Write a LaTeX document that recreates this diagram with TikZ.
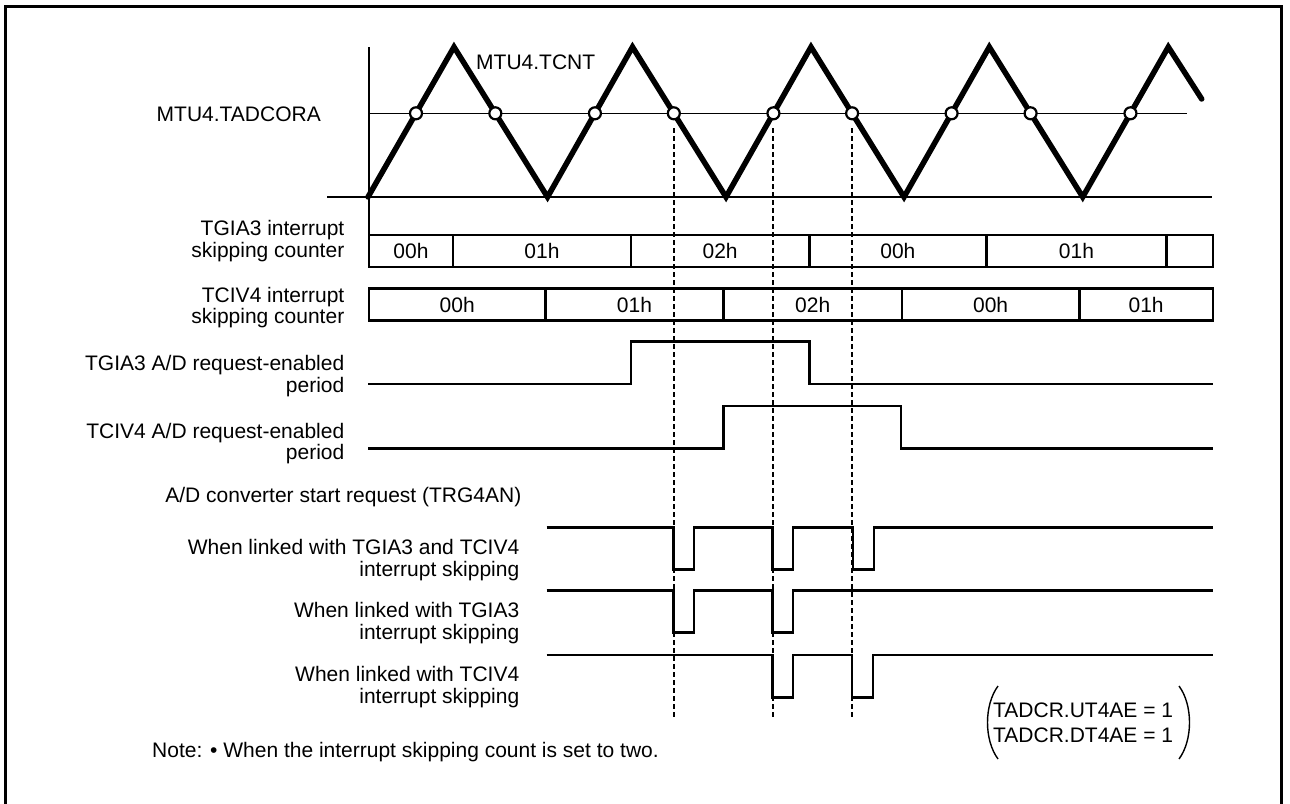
\documentclass[tikz,border=0pt]{standalone}
\usepackage{fontspec}
\setmainfont{Liberation Sans}
\usetikzlibrary{calc}
\begin{document}
\begin{tikzpicture}[x=1pt,y=-1pt,
  lbl/.style={font=\fontsize{21}{21.5}\selectfont, inner sep=0pt, align=right, anchor=east},
  celltext/.style={font=\fontsize{21}{21.5}\selectfont, inner sep=0pt},
  thinline/.style={line width=1.4pt},
  sig/.style={line width=2.8pt, line join=miter},
  tri/.style={line width=5.5pt, line join=miter, line cap=round},
  guide/.style={line width=2pt, dash pattern=on 5pt off 3pt},
  cmpdot/.style={circle, draw, fill=white, line width=2.2pt, minimum size=12pt, inner sep=0pt},
  frame/.style={line width=3pt}
]
\useasboundingbox (0,0) rectangle (1290,803);
% outer frame
\draw[frame] (5,830) -- (5,6) -- (1281.5,6) -- (1281.5,830);

% axes
\coordinate (axtop) at (369,47);
\coordinate (axbot) at (369,235);
\coordinate (bl0) at (327,197);
\coordinate (bl1) at (1212,197);
\coordinate (ad0) at (369,113.3);
\coordinate (ad1) at (1187,113.3);
\draw[thinline] (axtop) -- (axbot);
\draw[thinline] (bl0) -- (bl1);
\draw[thinline] (ad0) -- (ad1);

% triangle wave
\coordinate (t0) at (368,197);
\coordinate (p0) at (454,47);
\coordinate (t1) at (547.5,197);
\coordinate (p1) at (632.5,47);
\coordinate (t2) at (726,197);
\coordinate (p2) at (811,47);
\coordinate (t3) at (904,197);
\coordinate (p3) at (989.3,47);
\coordinate (t4) at (1082.7,197);
\coordinate (p4) at (1168.3,47);
\coordinate (wend) at (1201.7,99);
\draw[tri] (t0) -- (p0) -- (t1) -- (p1) -- (t2) -- (p2) -- (t3) -- (p3) -- (t4) -- (p4) -- (wend);

% compare-match points
\node[cmpdot] (c1) at ($(t0)!0.558!(p0)$) {};
\node[cmpdot] (c2) at ($(p0)!0.442!(t1)$) {};
\node[cmpdot] (c3) at ($(t1)!0.558!(p1)$) {};
\node[cmpdot] (c4) at ($(p1)!0.442!(t2)$) {};
\node[cmpdot] (c5) at ($(t2)!0.558!(p2)$) {};
\node[cmpdot] (c6) at ($(p2)!0.442!(t3)$) {};
\node[cmpdot] (c7) at ($(t3)!0.558!(p3)$) {};
\node[cmpdot] (c8) at ($(p3)!0.442!(t4)$) {};
\node[cmpdot] (c9) at ($(t4)!0.558!(p4)$) {};

\node[lbl] (tadcora) at (321,114.5) {MTU4.TADCORA};
\node[lbl, anchor=west] (tcnt) at (476,62) {MTU4.TCNT};

% counters
\foreach \a/\b/\t [count=\i] in {369/453/00h, 453/631/01h, 631/809.3/02h, 809.3/986.5/00h, 986.5/1166.5/01h, 1166.5/1213/{}}{
  \draw[sig] (\a,235) rectangle (\b,267);
  \node[celltext] (ga\i) at ({(\a+\b)/2},251) {\t};
}
\foreach \a/\b/\t [count=\i] in {369/545.5/00h, 545.5/723.5/01h, 723.5/902/02h, 902/1079.3/00h, 1079.3/1213/01h}{
  \draw[sig] (\a,288.5) rectangle (\b,320.7);
  \node[celltext] (cv\i) at ({(\a+\b)/2},304.6) {\t};
}
\node[lbl] (lga) at (344.5,241) {TGIA3 interrupt\\skipping counter};
\node[lbl] (lcv) at (344.5,307.5) {TCIV4 interrupt\\skipping counter};

% request-enabled periods
\draw[sig] (368,384) -- (631,384) -- (631,341.7) -- (809.3,341.7) -- (809.3,384) -- (1213,384);
\draw[sig] (368,448.3) -- (723.3,448.3) -- (723.3,406) -- (901,406) -- (901,448.3) -- (1213,448.3);
\node[lbl] (lgae) at (344.5,376) {TGIA3 A/D request-enabled\\period};
\node[lbl] (lcve) at (344.5,443.5) {TCIV4 A/D request-enabled\\period};

\node[lbl] (ltrg) at (521.5,497) {A/D converter start request (TRG4AN)};

% start requests
\def\ha{527.3}\def\la{569.3}
\draw[sig] (546.7,\ha) -- (673.5,\ha) -- (673.5,\la) -- (694,\la) -- (694,\ha) -- (772.5,\ha) -- (772.5,\la) -- (793,\la) -- (793,\ha) -- (853,\ha) -- (853,\la) -- (874,\la) -- (874,\ha) -- (1213,\ha);
\def\hb{590.7}\def\lb{632.3}
\draw[sig] (546.7,\hb) -- (673.5,\hb) -- (673.5,\lb) -- (694,\lb) -- (694,\hb) -- (772.5,\hb) -- (772.5,\lb) -- (793,\lb) -- (793,\hb) -- (1213,\hb);
\def\hc{655}\def\lc{697.3}
\draw[sig] (546.7,\hc) -- (772.5,\hc) -- (772.5,\lc) -- (793,\lc) -- (793,\hc) -- (852,\hc) -- (852,\lc) -- (873,\lc) -- (873,\hc) -- (1213,\hc);

\node[lbl] (lr1) at (519.5,560) {When linked with TGIA3 and TCIV4\\interrupt skipping};
\node[lbl] (lr2) at (519.5,623) {When linked with TGIA3\\interrupt skipping};
\node[lbl] (lr3) at (519.5,687) {When linked with TCIV4\\interrupt skipping};

% guide lines
\coordinate (gb) at (0,720);
\draw[guide] ([yshift=-15pt]c4.center) -- (c4 |- gb);
\draw[guide] ([yshift=-15pt]c5.center) -- (c5 |- gb);
\draw[guide] ([yshift=-15pt]c6.center) -- (c6 |- gb);

% note
\node[lbl, anchor=west] (note) at (152,752) {Note: \textbullet\ When the interrupt skipping count is set to two.};

% register settings
\node[lbl, anchor=west, align=left] (tadcr) at (993,723) {TADCR.UT4AE = 1\\[3pt]TADCR.DT4AE = 1};
\draw[thinline] (998,686) .. controls (984,705) and (984,740) .. (998,759);
\draw[thinline] (1179,686) .. controls (1193,705) and (1193,740) .. (1179,759);
\end{tikzpicture}
\end{document}
